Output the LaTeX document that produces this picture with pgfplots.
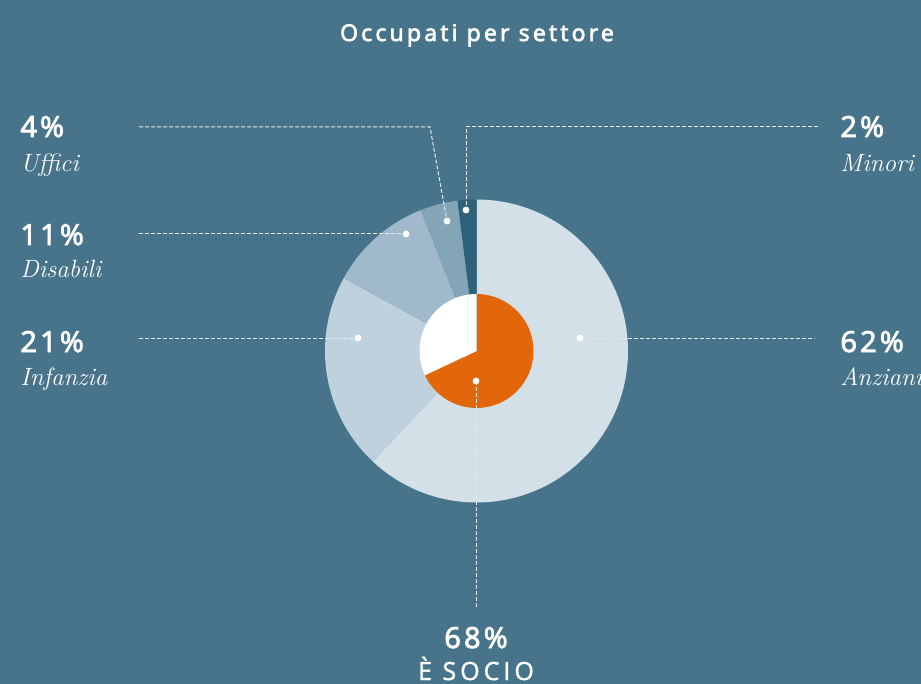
\documentclass[border=0pt]{standalone}
\usepackage{fontspec}
\usepackage{pgfplots}
\pgfplotsset{compat=1.18}
\newfontfamily\titlefont[LetterSpace=14, FakeBold=3]{Open Sans}
\newfontfamily\numfont[LetterSpace=11, FakeBold=3]{Open Sans}
\newfontfamily\capfont[LetterSpace=16, FakeBold=1.5]{Open Sans}
\definecolor{bg}{HTML}{47748A}
\definecolor{cAnz}{HTML}{D3E0E7}
\definecolor{cInf}{HTML}{BED1DC}
\definecolor{cDis}{HTML}{A0BACB}
\definecolor{cUff}{HTML}{84A5B8}
\definecolor{cMin}{HTML}{2F6179}
\definecolor{cSoc}{HTML}{E2660A}
% slice: color, cumulative start (%), value (%), radius
\newcommand{\slice}[4]{%
  \fill[#1] (axis cs:476.5,351) -- ++({90-3.6*(#2)}:#4)
    arc[start angle={90-3.6*(#2)}, delta angle={-3.6*(#3)}, radius=#4] -- cycle;}
\begin{document}
\begin{tikzpicture}
\useasboundingbox (0,0) rectangle (460.5pt,342pt);
\begin{axis}[at={(0,0)}, anchor=south west, x=0.5pt, y=0.5pt,
  xmin=0, xmax=921, ymin=0, ymax=684, y dir=reverse,
  scale only axis, hide axis, clip=false]
\fill[bg] (axis cs:0,0) rectangle (axis cs:921,684);
% outer ring: Anziani 62, Infanzia 21, Disabili 11, Uffici 4, Minori 2
\slice{cAnz}{0}{62}{75.75pt}
\slice{cInf}{62}{21}{75.75pt}
\slice{cDis}{83}{11}{75.75pt}
\slice{cUff}{94}{4}{75.75pt}
\slice{cMin}{98}{2}{75.75pt}
% inner: socio 68, non socio 32
\slice{cSoc}{0}{68}{28.5pt}
\slice{white}{68}{32}{28.5pt}
% leader lines
\begin{scope}[white!85!bg, line width=0.5pt, dash pattern=on 2pt off 1pt]
\draw (axis cs:139,127) -- (axis cs:430,127) -- (axis cs:447,221);
\draw (axis cs:818,127) -- (axis cs:466,127) -- (axis cs:466,210);
\draw (axis cs:139,234) -- (axis cs:406,234);
\draw (axis cs:139,338) -- (axis cs:358,338);
\draw (axis cs:580,338) -- (axis cs:815,338);
\draw (axis cs:476,381) -- (axis cs:476,607);
\end{scope}
\addplot[only marks, mark=*, mark size=1.5pt, white] coordinates {
  (580,338) (358,338) (406,234) (447,221) (466,210) (476,381)};
% texts
\node[text=white, anchor=base, font=\titlefont\fontsize{11.5}{12}\selectfont] at (axis cs:477,41) {Occupati per settore};
\tikzset{num/.style={text=white, inner sep=0pt, font=\numfont\fontsize{14.5}{14}\selectfont},
         lab/.style={text=white, inner sep=0pt, font=\itshape\fontsize{12.5}{13}\selectfont}}
\node[num, anchor=base west] at (axis cs:20,137) {4\%};
\node[lab, anchor=base west] at (axis cs:20,172) {Uffici};
\node[num, anchor=base west] at (axis cs:20,245) {11\%};
\node[lab, anchor=base west] at (axis cs:20,278) {Disabili};
\node[num, anchor=base west] at (axis cs:20,352) {21\%};
\node[lab, anchor=base west] at (axis cs:20,385) {Infanzia};
\node[num, anchor=base west] at (axis cs:840,137) {2\%};
\node[lab, anchor=base west] at (axis cs:840,172) {Minori};
\node[num, anchor=base west] at (axis cs:840,352) {62\%};
\node[lab, anchor=base west] at (axis cs:840,385) {Anziani};
\node[num, anchor=base] at (axis cs:476,648) {68\%};
\node[text=white, inner sep=0pt, anchor=base, font=\capfont\fontsize{12.5}{13}\selectfont] at (axis cs:476,680) {È SOCIO};
\end{axis}
\end{tikzpicture}
\end{document}
